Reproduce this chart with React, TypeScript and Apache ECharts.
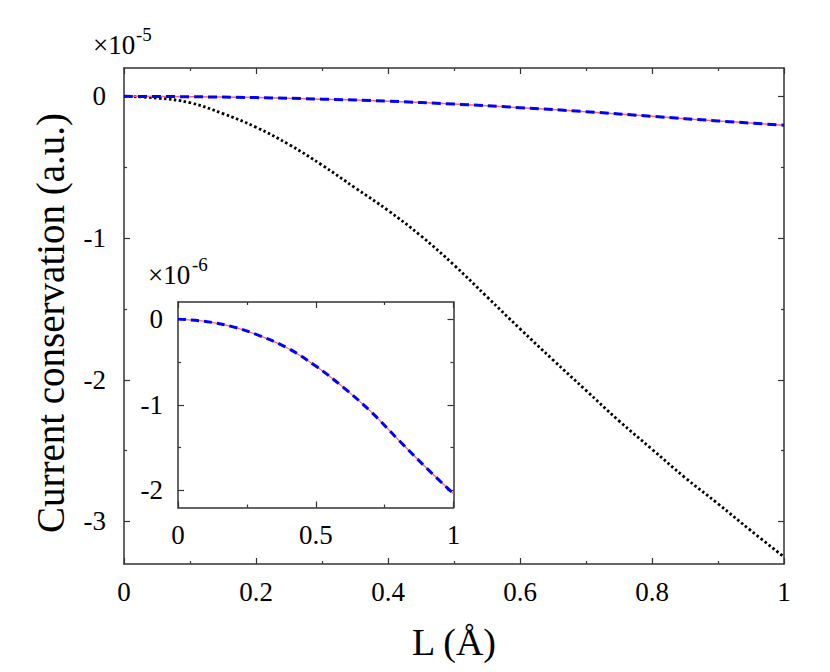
import React, { useEffect, useRef } from "react";
import * as echarts from "echarts";

// Main plot (units of 1e-5)
const mainX = [0, 0.05, 0.1, 0.15, 0.2, 0.25, 0.3, 0.35, 0.4, 0.45, 0.5, 0.55, 0.6, 0.65, 0.7, 0.75, 0.8, 0.85, 0.9, 0.95, 1.0];
const dottedY = [0, -0.012, -0.045, -0.122, -0.218, -0.34, -0.485, -0.645, -0.805, -0.985, -1.19, -1.415, -1.64, -1.86, -2.075, -2.29, -2.49, -2.69, -2.875, -3.065, -3.25];

// Inset (units of 1e-6), same curve as main red/blue
const insetX = [0, 0.1, 0.2, 0.3, 0.4, 0.5, 0.6, 0.7, 0.8, 0.9, 1.0];
const insetY = [0, -0.027, -0.09, -0.198, -0.342, -0.548, -0.797, -1.08, -1.41, -1.733, -2.04];

const mainYLabels = [0, -1, -2, -3];
const mainYMinor = [-0.5, -1.5, -2.5];
const insetYLabels = [0, -1, -2];
const insetYMinor = [-0.5, -1.5];

const FONT = "Liberation Serif";
const AX = "#333";

export default function App() {
  const ref = useRef<HTMLDivElement>(null);
  useEffect(() => {
    if (!ref.current) return;
    const chart = echarts.init(ref.current, null, { renderer: "svg" });
    const pairs = (xs: number[], ys: number[], k = 1) => xs.map((x, i) => [x, ys[i] * k]);

    const xAxisBase = (grid: number, interval: number, pos: "bottom" | "top", labels: boolean, margin: number, z: number) => ({
      type: "value",
      gridIndex: grid,
      position: pos,
      min: 0,
      max: 1,
      interval,
      z,
      axisLine: { show: true, onZero: false, lineStyle: { color: AX, width: 1.5 } },
      axisTick: { show: true, inside: true, length: 6, lineStyle: { color: AX, width: 1.2 } },
      minorTick: { show: true, splitNumber: 2, length: 3, lineStyle: { color: AX, width: 1.2 } },
      splitLine: { show: false },
      minorSplitLine: { show: false },
      axisLabel: labels
        ? { show: true, margin, color: "#000", fontSize: 27, fontFamily: FONT, formatter: (v: number) => String(v) }
        : { show: false },
    });

    const yAxisBase = (grid: number, min: number, max: number, vals: number[], pos: "left" | "right", labels: boolean, len: number, line: boolean, margin: number, z: number) => ({
      type: "value",
      gridIndex: grid,
      position: pos,
      min,
      max,
      z,
      axisLine: { show: line, onZero: false, lineStyle: { color: AX, width: 1.5 } },
      axisTick: { show: true, inside: true, length: len, customValues: vals, lineStyle: { color: AX, width: 1.2 } },
      splitLine: { show: false },
      axisLabel: labels
        ? { show: true, margin, customValues: vals, color: "#000", fontSize: 27, fontFamily: FONT, formatter: (v: number) => String(v) }
        : { show: false },
    });

    const txt = (x: number, y: number, text: string, size: number, align: string, va: string) => ({
      type: "text", z: 20,
      style: { x, y, text, fontSize: size, fontFamily: FONT, fill: "#000", verticalAlign: va, align },
    });

    const option: any = {
      animation: false,
      backgroundColor: "#fff",
      textStyle: { fontFamily: FONT },
      grid: [
        { left: 124, top: 68, width: 660, height: 496, containLabel: false, z: 0 },
        { left: 178, top: 302, width: 275.5, height: 205.5, containLabel: false, show: true, backgroundColor: "#fff", borderWidth: 0, z: 10 },
      ],
      xAxis: [
        xAxisBase(0, 0.2, "bottom", true, 14, 1),
        xAxisBase(0, 0.2, "top", false, 0, 1),
        xAxisBase(1, 0.5, "bottom", true, 14, 11),
        xAxisBase(1, 0.5, "top", false, 0, 11),
      ],
      yAxis: [
        yAxisBase(0, -3.3, 0.2, mainYLabels, "left", true, 6, true, 18, 1),
        yAxisBase(0, -3.3, 0.2, mainYMinor, "left", false, 3, false, 0, 1),
        yAxisBase(0, -3.3, 0.2, mainYLabels, "right", false, 6, true, 0, 1),
        yAxisBase(0, -3.3, 0.2, mainYMinor, "right", false, 3, false, 0, 1),
        yAxisBase(1, -2.2, 0.2, insetYLabels, "left", true, 6, true, 15, 11),
        yAxisBase(1, -2.2, 0.2, insetYMinor, "left", false, 3, false, 0, 11),
        yAxisBase(1, -2.2, 0.2, insetYLabels, "right", false, 6, true, 0, 11),
        yAxisBase(1, -2.2, 0.2, insetYMinor, "right", false, 3, false, 0, 11),
      ],
      series: [
        {
          type: "line", xAxisIndex: 0, yAxisIndex: 0, data: pairs(mainX, dottedY), smooth: 0.4, showSymbol: false, z: 2,
          lineStyle: { color: "#000", width: 2.8, type: [2.5, 2.5], cap: "butt" },
        },
        {
          type: "line", xAxisIndex: 0, yAxisIndex: 0, data: pairs(insetX, insetY, 0.1), smooth: 0.4, showSymbol: false, z: 3,
          lineStyle: { color: "#ff6666", width: 1.5 },
        },
        {
          type: "line", xAxisIndex: 0, yAxisIndex: 0, data: pairs(insetX, insetY, 0.1), smooth: 0.4, showSymbol: false, z: 4,
          lineStyle: { color: "#0000ff", width: 3, type: [9, 5] },
        },
        {
          type: "line", xAxisIndex: 2, yAxisIndex: 4, data: pairs(insetX, insetY), smooth: 0.4, showSymbol: false, z: 12,
          lineStyle: { color: "#ff6666", width: 1.2 },
        },
        {
          type: "line", xAxisIndex: 2, yAxisIndex: 4, data: pairs(insetX, insetY), smooth: 0.4, showSymbol: false, z: 13,
          lineStyle: { color: "#0000ff", width: 3, type: [8, 5] },
        },
      ],
      graphic: [
        txt(93, 58, "×10", 27, "left", "bottom"),
        txt(136, 44, "-5", 19, "left", "bottom"),
        txt(148, 288, "×10", 27, "left", "bottom"),
        txt(192, 274, "-6", 19, "left", "bottom"),
        txt(454, 642, "L (Å)", 38, "center", "middle"),
        {
          type: "text", z: 20, x: 50, y: 323, rotation: Math.PI / 2,
          style: { x: 0, y: 0, text: "Current conservation (a.u.)", fontSize: 39, fontFamily: FONT, fill: "#000", verticalAlign: "middle", align: "center" },
        },
      ],
    };
    chart.setOption(option);
    return () => chart.dispose();
  }, []);
  return <div ref={ref} style={{ width: 830, height: 672, position: "absolute", left: 0, top: 0 }} />;
}
